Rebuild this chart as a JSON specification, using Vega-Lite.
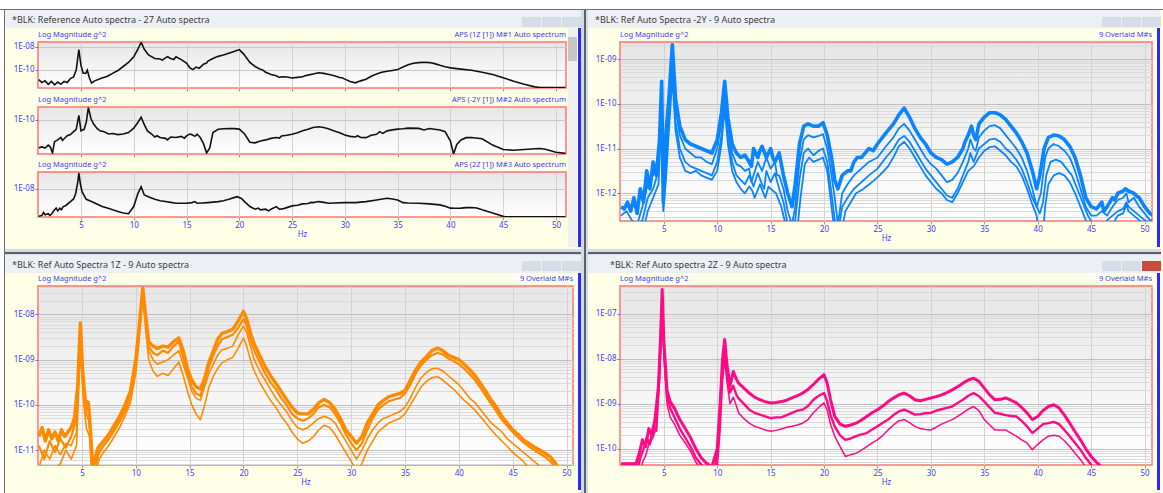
{
"$schema": "https://vega.github.io/schema/vega-lite/v6.json",
"padding": 0,
"background": "#fffee6",
"config": {"view": {"stroke": null}, "font": "Noto Sans", "title": {"font": "Noto Sans", "fontSize": 9, "fontWeight": "normal", "color": "#3c3c3c"}, "axis": {"labelFont": "Noto Sans", "titleFont": "Noto Sans"}},
"datasets": {
"A1": [{"f":1,"v":-10.84},{"f":1.3,"v":-11.1},{"f":1.6,"v":-10.95},{"f":1.9,"v":-11.25},{"f":2.2,"v":-11},{"f":2.5,"v":-11.3},{"f":2.8,"v":-11.05},{"f":3.1,"v":-11.25},{"f":3.4,"v":-11},{"f":3.7,"v":-11.1},{"f":4,"v":-10.75},{"f":4.3,"v":-10.6},{"f":4.55,"v":-10},{"f":4.8,"v":-8.23},{"f":5,"v":-9.6},{"f":5.2,"v":-10.26},{"f":5.45,"v":-10.3},{"f":5.6,"v":-10.03},{"f":5.8,"v":-10.7},{"f":6,"v":-11.13},{"f":6.3,"v":-10.95},{"f":7,"v":-10.7},{"f":7.5,"v":-10.55},{"f":8,"v":-10.3},{"f":8.5,"v":-10.05},{"f":9,"v":-9.7},{"f":9.5,"v":-9.35},{"f":10,"v":-8.85},{"f":10.4,"v":-8.2},{"f":10.7,"v":-7.59},{"f":11,"v":-8.2},{"f":11.4,"v":-8.7},{"f":12,"v":-9},{"f":12.5,"v":-9.05},{"f":13,"v":-8.95},{"f":13.5,"v":-9},{"f":14,"v":-8.85},{"f":14.5,"v":-9.1},{"f":15,"v":-9.4},{"f":15.3,"v":-9.8},{"f":15.6,"v":-9.97},{"f":15.9,"v":-9.75},{"f":16.2,"v":-9.85},{"f":16.6,"v":-9.5},{"f":17,"v":-9.25},{"f":17.5,"v":-9},{"f":18,"v":-8.82},{"f":18.5,"v":-8.7},{"f":19,"v":-8.55},{"f":19.5,"v":-8.4},{"f":20,"v":-8.23},{"f":20.4,"v":-8.6},{"f":21,"v":-9.35},{"f":21.5,"v":-9.7},{"f":22,"v":-9.95},{"f":22.5,"v":-10.2},{"f":23,"v":-10.4},{"f":23.5,"v":-10.5},{"f":24,"v":-10.6},{"f":24.5,"v":-10.62},{"f":25,"v":-10.7},{"f":25.5,"v":-10.65},{"f":26,"v":-10.6},{"f":26.5,"v":-10.45},{"f":27,"v":-10.35},{"f":27.5,"v":-10.25},{"f":28,"v":-10.3},{"f":28.5,"v":-10.4},{"f":29,"v":-10.5},{"f":29.5,"v":-10.65},{"f":30,"v":-10.8},{"f":30.5,"v":-11},{"f":31,"v":-11.12},{"f":31.5,"v":-10.95},{"f":32,"v":-10.8},{"f":32.5,"v":-10.55},{"f":33,"v":-10.35},{"f":33.5,"v":-10.2},{"f":34,"v":-10.12},{"f":34.5,"v":-10.05},{"f":35,"v":-9.97},{"f":35.5,"v":-9.75},{"f":36,"v":-9.55},{"f":36.5,"v":-9.42},{"f":37,"v":-9.36},{"f":37.5,"v":-9.33},{"f":38,"v":-9.36},{"f":38.5,"v":-9.45},{"f":39,"v":-9.6},{"f":39.5,"v":-9.72},{"f":40,"v":-9.82},{"f":41,"v":-9.93},{"f":42,"v":-10.03},{"f":43,"v":-10.2},{"f":44,"v":-10.4},{"f":45,"v":-10.68},{"f":46,"v":-10.98},{"f":47,"v":-11.25},{"f":48,"v":-11.47},{"f":48.5,"v":-11.52},{"f":50.9,"v":-11.52},{"f":12.7,"v":-9.15},{"f":13.2,"v":-8.85},{"f":13.8,"v":-9.1},{"f":16.9,"v":-9.4},{"f":22.2,"v":-10.0},{"f":23.8,"v":-10.65},{"f":26.2,"v":-10.5},{"f":29.8,"v":-10.7},{"f":31.2,"v":-11.05}],
"A2": [{"f":1,"v":-12.38},{"f":1.3,"v":-12.3},{"f":1.6,"v":-12.4},{"f":1.9,"v":-12.15},{"f":2.1,"v":-12.3},{"f":2.3,"v":-12.81},{"f":2.5,"v":-11.85},{"f":2.8,"v":-11.7},{"f":3.1,"v":-11.5},{"f":3.4,"v":-11.6},{"f":3.7,"v":-11.35},{"f":4,"v":-11.25},{"f":4.3,"v":-11},{"f":4.55,"v":-10.8},{"f":4.8,"v":-9.62},{"f":5,"v":-10.93},{"f":5.3,"v":-10.8},{"f":5.5,"v":-10.2},{"f":5.7,"v":-8.96},{"f":5.95,"v":-9.9},{"f":6.2,"v":-10.35},{"f":6.5,"v":-10.7},{"f":6.8,"v":-10.93},{"f":7.2,"v":-11},{"f":7.6,"v":-11.2},{"f":8,"v":-11.15},{"f":8.5,"v":-11.25},{"f":9,"v":-11.2},{"f":9.5,"v":-11.07},{"f":10,"v":-10.7},{"f":10.4,"v":-10.2},{"f":10.7,"v":-9.77},{"f":11,"v":-10.4},{"f":11.3,"v":-10.93},{"f":11.7,"v":-11.2},{"f":12,"v":-11.45},{"f":12.5,"v":-11.5},{"f":13,"v":-11.57},{"f":13.5,"v":-11.45},{"f":14,"v":-11.5},{"f":14.5,"v":-11.4},{"f":15,"v":-11.36},{"f":15.5,"v":-11.25},{"f":16,"v":-11.22},{"f":16.3,"v":-11.5},{"f":16.6,"v":-12},{"f":16.9,"v":-12.81},{"f":17.2,"v":-12.38},{"f":17.5,"v":-11.07},{"f":18,"v":-10.8},{"f":18.5,"v":-10.75},{"f":19,"v":-10.73},{"f":19.5,"v":-10.74},{"f":20,"v":-10.78},{"f":20.5,"v":-11.2},{"f":21,"v":-11.9},{"f":21.5,"v":-11.95},{"f":22,"v":-11.8},{"f":22.5,"v":-11.7},{"f":23,"v":-11.57},{"f":23.5,"v":-11.5},{"f":24,"v":-11.36},{"f":24.5,"v":-11.3},{"f":25,"v":-11.22},{"f":25.5,"v":-11.1},{"f":26,"v":-10.93},{"f":26.5,"v":-10.8},{"f":27,"v":-10.65},{"f":27.5,"v":-10.58},{"f":28,"v":-10.65},{"f":28.5,"v":-10.78},{"f":29,"v":-10.95},{"f":29.5,"v":-11.1},{"f":30,"v":-11.28},{"f":30.5,"v":-11.4},{"f":31,"v":-11.45},{"f":31.5,"v":-11.5},{"f":32,"v":-11.51},{"f":32.5,"v":-11.3},{"f":33,"v":-11.22},{"f":33.3,"v":-11},{"f":33.6,"v":-11.15},{"f":34,"v":-10.93},{"f":34.5,"v":-10.85},{"f":35,"v":-10.78},{"f":35.5,"v":-10.75},{"f":36,"v":-10.7},{"f":37,"v":-10.72},{"f":38,"v":-10.73},{"f":39,"v":-10.85},{"f":39.5,"v":-11},{"f":40,"v":-11.8},{"f":40.3,"v":-12.9},{"f":40.6,"v":-12.09},{"f":41,"v":-11.7},{"f":41.5,"v":-11.51},{"f":42,"v":-11.5},{"f":43,"v":-11.6},{"f":44,"v":-12.14},{"f":45,"v":-12.52},{"f":46,"v":-12.58},{"f":47,"v":-12.52},{"f":48,"v":-12.45},{"f":48.5,"v":-12.43},{"f":49,"v":-12.5},{"f":49.5,"v":-12.63},{"f":50,"v":-12.75},{"f":50.9,"v":-12.85},{"f":3.25,"v":-11.75},{"f":12.2,"v":-11.35},{"f":13.2,"v":-11.7},{"f":14.8,"v":-11.55},{"f":15.3,"v":-11.2},{"f":15.8,"v":-11.4},{"f":23.8,"v":-11.55},{"f":31.2,"v":-11.35},{"f":37.5,"v":-10.85}],
"A3": [{"f":1,"v":-10.43},{"f":1.3,"v":-10.35},{"f":1.6,"v":-10.29},{"f":1.9,"v":-10.2},{"f":2.2,"v":-10.25},{"f":2.5,"v":-9.86},{"f":2.8,"v":-9.95},{"f":3,"v":-9.71},{"f":3.3,"v":-9.6},{"f":3.6,"v":-9.45},{"f":4,"v":-9.13},{"f":4.3,"v":-8.9},{"f":4.5,"v":-8.41},{"f":4.7,"v":-7.4},{"f":4.8,"v":-6.61},{"f":4.95,"v":-7.6},{"f":5.1,"v":-8.26},{"f":5.5,"v":-8.93},{"f":6,"v":-9.13},{"f":6.5,"v":-9.35},{"f":7,"v":-9.57},{"f":7.5,"v":-9.7},{"f":8,"v":-9.86},{"f":8.5,"v":-10},{"f":9,"v":-10.14},{"f":9.5,"v":-10.2},{"f":10,"v":-9.57},{"f":10.4,"v":-8.4},{"f":10.7,"v":-7.83},{"f":11,"v":-8.55},{"f":11.5,"v":-8.75},{"f":12,"v":-8.93},{"f":12.5,"v":-9.05},{"f":13,"v":-9.13},{"f":13.5,"v":-9.2},{"f":14,"v":-9.28},{"f":14.5,"v":-9.28},{"f":15,"v":-9.28},{"f":15.5,"v":-9.22},{"f":15.8,"v":-9.13},{"f":16,"v":-9.28},{"f":16.5,"v":-9.25},{"f":17,"v":-9.22},{"f":17.5,"v":-9.18},{"f":18,"v":-9.13},{"f":18.5,"v":-9.05},{"f":19,"v":-8.93},{"f":19.5,"v":-8.78},{"f":19.8,"v":-8.7},{"f":20.2,"v":-8.85},{"f":20.5,"v":-9.13},{"f":21,"v":-9.57},{"f":21.5,"v":-9.8},{"f":22,"v":-9.86},{"f":22.5,"v":-9.8},{"f":23,"v":-9.8},{"f":23.5,"v":-9.57},{"f":23.8,"v":-9.8},{"f":24.2,"v":-9.75},{"f":25,"v":-9.51},{"f":25.5,"v":-9.45},{"f":26,"v":-9.33},{"f":26.5,"v":-9.3},{"f":27,"v":-9.22},{"f":27.5,"v":-9.13},{"f":28,"v":-9.2},{"f":28.5,"v":-9.28},{"f":29,"v":-9.25},{"f":30,"v":-9.22},{"f":31,"v":-9.22},{"f":32,"v":-9.13},{"f":33,"v":-8.99},{"f":34,"v":-8.84},{"f":34.5,"v":-8.9},{"f":35,"v":-8.99},{"f":35.5,"v":-9.22},{"f":36,"v":-9.25},{"f":37,"v":-9.28},{"f":38,"v":-9.33},{"f":39,"v":-9.42},{"f":39.5,"v":-9.55},{"f":40,"v":-9.71},{"f":40.5,"v":-9.72},{"f":41,"v":-9.71},{"f":41.5,"v":-9.66},{"f":42,"v":-9.65},{"f":42.5,"v":-9.7},{"f":43,"v":-9.86},{"f":44,"v":-10.14},{"f":45,"v":-10.43},{"f":45.2,"v":-10.47},{"f":50.9,"v":-10.47},{"f":1.45,"v":-10.1},{"f":2.05,"v":-10.35},{"f":2.65,"v":-9.7},{"f":3.15,"v":-9.85},{"f":21.8,"v":-9.7},{"f":22.8,"v":-9.95},{"f":26.8,"v":-9.2}],
"TR": [
{"s":"a","f":1,"v":-12.3},{"s":"a","f":1.3,"v":-12.35},{"s":"a","f":1.6,"v":-12.2},{"s":"a","f":1.9,"v":-12.4},{"s":"a","f":2.2,"v":-12.1},{"s":"a","f":2.5,"v":-12.45},{"s":"a","f":2.8,"v":-11.9},{"s":"a","f":3.1,"v":-12.2},{"s":"a","f":3.4,"v":-11.5},{"s":"a","f":3.7,"v":-11.9},{"s":"a","f":4,"v":-11.3},{"s":"a","f":4.3,"v":-11.6},{"s":"a","f":4.6,"v":-10.8},{"s":"a","f":4.8,"v":-9.5},{"s":"a","f":4.95,"v":-12.2},{"s":"a","f":5.1,"v":-11},{"s":"a","f":5.5,"v":-9.8},{"s":"a","f":5.8,"v":-8.68},{"s":"a","f":6.1,"v":-9.9},{"s":"a","f":6.5,"v":-10.5},{"s":"a","f":7,"v":-10.8},{"s":"a","f":7.5,"v":-10.9},{"s":"a","f":8,"v":-10.95},{"s":"a","f":8.5,"v":-11},{"s":"a","f":9,"v":-11.05},{"s":"a","f":9.5,"v":-11.1},{"s":"a","f":10,"v":-10.8},{"s":"a","f":10.4,"v":-10.2},{"s":"a","f":10.7,"v":-9.5},{"s":"a","f":11,"v":-10.3},{"s":"a","f":11.4,"v":-10.9},{"s":"a","f":11.8,"v":-11.1},{"s":"a","f":12.2,"v":-11.2},{"s":"a","f":12.6,"v":-11.15},{"s":"a","f":13,"v":-11.3},{"s":"a","f":13.4,"v":-11},{"s":"a","f":13.8,"v":-11.2},{"s":"a","f":14.2,"v":-10.95},{"s":"a","f":14.6,"v":-11.2},{"s":"a","f":15,"v":-11},{"s":"a","f":15.4,"v":-11.3},{"s":"a","f":15.8,"v":-11.1},{"s":"a","f":16.2,"v":-11.6},{"s":"a","f":16.6,"v":-12},{"s":"a","f":17,"v":-12.3},{"s":"a","f":17.3,"v":-11.8},{"s":"a","f":17.7,"v":-10.9},{"s":"a","f":18.1,"v":-10.5},{"s":"a","f":18.5,"v":-10.45},{"s":"a","f":19,"v":-10.5},{"s":"a","f":19.5,"v":-10.5},{"s":"a","f":19.9,"v":-10.42},{"s":"a","f":20.3,"v":-10.7},{"s":"a","f":20.7,"v":-11.2},{"s":"a","f":21,"v":-11.7},{"s":"a","f":21.3,"v":-11.9},{"s":"a","f":21.7,"v":-11.6},{"s":"a","f":22.2,"v":-11.5},{"s":"a","f":22.8,"v":-11.3},{"s":"a","f":23.5,"v":-11.2},{"s":"a","f":24.2,"v":-11},{"s":"a","f":25,"v":-10.9},{"s":"a","f":25.8,"v":-10.65},{"s":"a","f":26.5,"v":-10.45},{"s":"a","f":27,"v":-10.25},{"s":"a","f":27.5,"v":-10.1},{"s":"a","f":28,"v":-10.3},{"s":"a","f":28.5,"v":-10.55},{"s":"a","f":29,"v":-10.75},{"s":"a","f":29.5,"v":-10.9},{"s":"a","f":30,"v":-11.1},{"s":"a","f":30.5,"v":-11.2},{"s":"a","f":31,"v":-11.25},{"s":"a","f":31.5,"v":-11.35},{"s":"a","f":32,"v":-11.3},{"s":"a","f":32.5,"v":-11.2},{"s":"a","f":33,"v":-11},{"s":"a","f":33.5,"v":-10.7},{"s":"a","f":34,"v":-10.7},{"s":"a","f":34.5,"v":-10.45},{"s":"a","f":35,"v":-10.3},{"s":"a","f":35.5,"v":-10.2},{"s":"a","f":36,"v":-10.2},{"s":"a","f":36.5,"v":-10.25},{"s":"a","f":37,"v":-10.35},{"s":"a","f":37.5,"v":-10.5},{"s":"a","f":38,"v":-10.65},{"s":"a","f":38.5,"v":-10.85},{"s":"a","f":39,"v":-11.1},{"s":"a","f":39.5,"v":-11.5},{"s":"a","f":39.9,"v":-11.9},{"s":"a","f":40.2,"v":-11.6},{"s":"a","f":40.6,"v":-11},{"s":"a","f":41,"v":-10.75},{"s":"a","f":41.5,"v":-10.7},{"s":"a","f":42,"v":-10.72},{"s":"a","f":42.5,"v":-10.8},{"s":"a","f":43,"v":-10.95},{"s":"a","f":43.5,"v":-11.2},{"s":"a","f":44,"v":-11.6},{"s":"a","f":44.5,"v":-12.1},{"s":"a","f":45,"v":-12.3},{"s":"a","f":45.5,"v":-12.35},{"s":"a","f":46,"v":-12.2},{"s":"a","f":46.5,"v":-12.3},{"s":"a","f":47,"v":-12.1},{"s":"a","f":47.5,"v":-12},{"s":"a","f":48,"v":-11.95},{"s":"a","f":48.5,"v":-11.95},{"s":"a","f":49,"v":-12},{"s":"a","f":49.5,"v":-12.1},{"s":"a","f":50,"v":-12.3},{"s":"a","f":50.5,"v":-12.45},{"s":"a","f":50.8,"v":-12.5},
{"s":"a","f":13.2,"v":-11.4},{"s":"a","f":14,"v":-11.05},{"s":"a","f":15.2,"v":-11.2},{"s":"a","f":16,"v":-11.35},{"s":"a","f":22.5,"v":-11.5},{"s":"a","f":23.1,"v":-11.2},{"s":"a","f":24.6,"v":-11.05},{"s":"a","f":33.2,"v":-10.85},{"s":"a","f":33.8,"v":-10.5},{"s":"a","f":34.2,"v":-10.8},{"s":"a","f":46.2,"v":-12.4},{"s":"a","f":47.2,"v":-12.15},{"s":"a","f":48.2,"v":-11.9},{"s":"a","f":49.2,"v":-12.05},
{"s":"b","f":1,"v":-12.5},{"s":"b","f":1.5,"v":-12.4},{"s":"b","f":2,"v":-12.6},{"s":"b","f":2.5,"v":-12.7},{"s":"b","f":3,"v":-12.3},{"s":"b","f":3.5,"v":-11.8},{"s":"b","f":4,"v":-11.6},{"s":"b","f":4.5,"v":-11.2},{"s":"b","f":4.8,"v":-9.6},{"s":"b","f":4.95,"v":-12},{"s":"b","f":5.2,"v":-11.2},{"s":"b","f":5.5,"v":-10},{"s":"b","f":5.8,"v":-8.95},{"s":"b","f":6.1,"v":-10.1},{"s":"b","f":6.5,"v":-10.7},{"s":"b","f":7,"v":-11},{"s":"b","f":7.5,"v":-11.1},{"s":"b","f":8,"v":-11.2},{"s":"b","f":8.5,"v":-11.2},{"s":"b","f":9,"v":-11.3},{"s":"b","f":9.5,"v":-11.35},{"s":"b","f":10,"v":-11},{"s":"b","f":10.4,"v":-10.4},{"s":"b","f":10.7,"v":-9.75},{"s":"b","f":11,"v":-10.5},{"s":"b","f":11.4,"v":-11.1},{"s":"b","f":11.8,"v":-11.35},{"s":"b","f":12.2,"v":-11.4},{"s":"b","f":12.6,"v":-11.5},{"s":"b","f":13,"v":-11.45},{"s":"b","f":13.4,"v":-11.6},{"s":"b","f":13.8,"v":-11.3},{"s":"b","f":14.2,"v":-11.5},{"s":"b","f":14.6,"v":-11.2},{"s":"b","f":15,"v":-11.45},{"s":"b","f":15.4,"v":-11.3},{"s":"b","f":15.8,"v":-11.6},{"s":"b","f":16.2,"v":-11.9},{"s":"b","f":16.6,"v":-12.4},{"s":"b","f":17,"v":-12.7},{"s":"b","f":17.3,"v":-12.3},{"s":"b","f":17.7,"v":-11.3},{"s":"b","f":18.1,"v":-10.8},{"s":"b","f":18.5,"v":-10.7},{"s":"b","f":19,"v":-10.75},{"s":"b","f":19.5,"v":-10.72},{"s":"b","f":19.9,"v":-10.68},{"s":"b","f":20.3,"v":-11},{"s":"b","f":20.7,"v":-11.6},{"s":"b","f":21,"v":-12.1},{"s":"b","f":21.3,"v":-12.7},{"s":"b","f":21.7,"v":-12},{"s":"b","f":22.2,"v":-11.8},{"s":"b","f":22.8,"v":-11.6},{"s":"b","f":23.5,"v":-11.45},{"s":"b","f":24.2,"v":-11.3},{"s":"b","f":25,"v":-11.2},{"s":"b","f":25.8,"v":-10.95},{"s":"b","f":26.5,"v":-10.75},{"s":"b","f":27,"v":-10.55},{"s":"b","f":27.5,"v":-10.45},{"s":"b","f":28,"v":-10.6},{"s":"b","f":28.5,"v":-10.8},{"s":"b","f":29,"v":-11},{"s":"b","f":29.5,"v":-11.2},{"s":"b","f":30,"v":-11.35},{"s":"b","f":30.5,"v":-11.45},{"s":"b","f":31,"v":-11.6},{"s":"b","f":31.5,"v":-11.75},{"s":"b","f":32,"v":-11.7},{"s":"b","f":32.5,"v":-11.55},{"s":"b","f":33,"v":-11.3},{"s":"b","f":33.5,"v":-11},{"s":"b","f":34,"v":-11},{"s":"b","f":34.5,"v":-10.75},{"s":"b","f":35,"v":-10.6},{"s":"b","f":35.5,"v":-10.5},{"s":"b","f":36,"v":-10.48},{"s":"b","f":36.5,"v":-10.55},{"s":"b","f":37,"v":-10.7},{"s":"b","f":37.5,"v":-10.85},{"s":"b","f":38,"v":-11},{"s":"b","f":38.5,"v":-11.2},{"s":"b","f":39,"v":-11.5},{"s":"b","f":39.5,"v":-11.9},{"s":"b","f":39.9,"v":-12.3},{"s":"b","f":40.3,"v":-12},{"s":"b","f":40.7,"v":-11.2},{"s":"b","f":41,"v":-11},{"s":"b","f":41.5,"v":-10.9},{"s":"b","f":42,"v":-10.95},{"s":"b","f":42.5,"v":-11.05},{"s":"b","f":43,"v":-11.2},{"s":"b","f":43.5,"v":-11.5},{"s":"b","f":44,"v":-11.9},{"s":"b","f":44.5,"v":-12.3},{"s":"b","f":45,"v":-12.5},{"s":"b","f":45.5,"v":-12.5},{"s":"b","f":46,"v":-12.4},{"s":"b","f":46.5,"v":-12.5},{"s":"b","f":47,"v":-12.3},{"s":"b","f":47.5,"v":-12.15},{"s":"b","f":48,"v":-12.1},{"s":"b","f":48.5,"v":-12.2},{"s":"b","f":49,"v":-12.1},{"s":"b","f":49.5,"v":-12.3},{"s":"b","f":50,"v":-12.45},{"s":"b","f":50.5,"v":-12.6},{"s":"b","f":50.8,"v":-12.6},
{"s":"b","f":13.2,"v":-11.75},{"s":"b","f":14.4,"v":-11.35},{"s":"b","f":15.6,"v":-11.6},{"s":"b","f":33.7,"v":-10.8},{"s":"b","f":34.2,"v":-11.05},{"s":"b","f":48.3,"v":-12.0},
{"s":"c","f":1,"v":-12.7},{"s":"c","f":2,"v":-12.8},{"s":"c","f":3,"v":-12.6},{"s":"c","f":3.5,"v":-12.1},{"s":"c","f":4,"v":-11.9},{"s":"c","f":4.5,"v":-11.5},{"s":"c","f":4.8,"v":-9.9},{"s":"c","f":4.95,"v":-12.3},{"s":"c","f":5.2,"v":-11.5},{"s":"c","f":5.5,"v":-10.3},{"s":"c","f":5.8,"v":-9.2},{"s":"c","f":6.1,"v":-10.4},{"s":"c","f":6.5,"v":-11},{"s":"c","f":7,"v":-11.3},{"s":"c","f":7.5,"v":-11.4},{"s":"c","f":8,"v":-11.45},{"s":"c","f":8.5,"v":-11.5},{"s":"c","f":9,"v":-11.55},{"s":"c","f":9.5,"v":-11.6},{"s":"c","f":10,"v":-11.3},{"s":"c","f":10.4,"v":-10.7},{"s":"c","f":10.7,"v":-9.95},{"s":"c","f":11,"v":-10.7},{"s":"c","f":11.4,"v":-11.3},{"s":"c","f":11.8,"v":-11.6},{"s":"c","f":12.2,"v":-11.7},{"s":"c","f":12.6,"v":-11.8},{"s":"c","f":13,"v":-11.6},{"s":"c","f":13.4,"v":-11.85},{"s":"c","f":13.8,"v":-11.55},{"s":"c","f":14.2,"v":-11.8},{"s":"c","f":14.6,"v":-11.5},{"s":"c","f":15,"v":-11.75},{"s":"c","f":15.4,"v":-11.55},{"s":"c","f":15.8,"v":-11.9},{"s":"c","f":16.2,"v":-12.2},{"s":"c","f":16.6,"v":-12.7},{"s":"c","f":17,"v":-12.9},{"s":"c","f":17.3,"v":-12.6},{"s":"c","f":17.7,"v":-11.7},{"s":"c","f":18.1,"v":-11.1},{"s":"c","f":18.5,"v":-11},{"s":"c","f":19,"v":-11.15},{"s":"c","f":19.5,"v":-11.05},{"s":"c","f":19.9,"v":-11},{"s":"c","f":20.3,"v":-11.3},{"s":"c","f":20.7,"v":-12},{"s":"c","f":21,"v":-12.6},{"s":"c","f":21.3,"v":-12.9},{"s":"c","f":21.7,"v":-12.3},{"s":"c","f":22.2,"v":-12.1},{"s":"c","f":22.8,"v":-11.9},{"s":"c","f":23.5,"v":-11.75},{"s":"c","f":24.2,"v":-11.6},{"s":"c","f":25,"v":-11.45},{"s":"c","f":25.8,"v":-11.2},{"s":"c","f":26.5,"v":-11},{"s":"c","f":27,"v":-10.8},{"s":"c","f":27.5,"v":-10.72},{"s":"c","f":28,"v":-10.85},{"s":"c","f":28.5,"v":-11.05},{"s":"c","f":29,"v":-11.25},{"s":"c","f":29.5,"v":-11.45},{"s":"c","f":30,"v":-11.6},{"s":"c","f":30.5,"v":-11.75},{"s":"c","f":31,"v":-11.9},{"s":"c","f":31.5,"v":-12.05},{"s":"c","f":32,"v":-12.1},{"s":"c","f":32.5,"v":-11.9},{"s":"c","f":33,"v":-11.6},{"s":"c","f":33.5,"v":-11.3},{"s":"c","f":34,"v":-11.3},{"s":"c","f":34.5,"v":-11},{"s":"c","f":35,"v":-10.9},{"s":"c","f":35.5,"v":-10.8},{"s":"c","f":36,"v":-10.78},{"s":"c","f":36.5,"v":-10.85},{"s":"c","f":37,"v":-11},{"s":"c","f":37.5,"v":-11.1},{"s":"c","f":38,"v":-11.25},{"s":"c","f":38.5,"v":-11.45},{"s":"c","f":39,"v":-11.75},{"s":"c","f":39.5,"v":-12.1},{"s":"c","f":39.9,"v":-12.3},{"s":"c","f":40.2,"v":-12.45},{"s":"c","f":40.5,"v":-12.2},{"s":"c","f":40.8,"v":-11.6},{"s":"c","f":41.2,"v":-11.3},{"s":"c","f":41.7,"v":-11.25},{"s":"c","f":42.2,"v":-11.3},{"s":"c","f":42.7,"v":-11.45},{"s":"c","f":43.2,"v":-11.6},{"s":"c","f":43.7,"v":-11.9},{"s":"c","f":44.2,"v":-12.2},{"s":"c","f":44.7,"v":-12.5},{"s":"c","f":45.2,"v":-12.7},{"s":"c","f":46,"v":-12.8},{"s":"c","f":46.5,"v":-12.6},{"s":"c","f":47,"v":-12.5},{"s":"c","f":47.5,"v":-12.4},{"s":"c","f":48,"v":-12.35},{"s":"c","f":48.5,"v":-12.3},{"s":"c","f":49,"v":-12.4},{"s":"c","f":49.5,"v":-12.5},{"s":"c","f":50,"v":-12.6},{"s":"c","f":50.8,"v":-12.7},
{"s":"c","f":13.6,"v":-11.7},{"s":"c","f":14.4,"v":-11.9},{"s":"c","f":33.7,"v":-11.1},{"s":"c","f":48.3,"v":-12.2},
{"s":"d","f":1,"v":-12.9},{"s":"d","f":3,"v":-12.9},{"s":"d","f":3.5,"v":-12.4},{"s":"d","f":4,"v":-12.1},{"s":"d","f":4.5,"v":-11.8},{"s":"d","f":4.8,"v":-10.2},{"s":"d","f":4.95,"v":-12.4},{"s":"d","f":5.2,"v":-11.7},{"s":"d","f":5.5,"v":-10.5},{"s":"d","f":5.8,"v":-9.4},{"s":"d","f":6.1,"v":-10.6},{"s":"d","f":6.5,"v":-11.2},{"s":"d","f":7,"v":-11.5},{"s":"d","f":7.5,"v":-11.55},{"s":"d","f":8,"v":-11.5},{"s":"d","f":8.5,"v":-11.6},{"s":"d","f":9,"v":-11.65},{"s":"d","f":9.5,"v":-11.7},{"s":"d","f":10,"v":-11.5},{"s":"d","f":10.4,"v":-10.9},{"s":"d","f":10.7,"v":-10.1},{"s":"d","f":11,"v":-10.9},{"s":"d","f":11.4,"v":-11.5},{"s":"d","f":11.8,"v":-11.75},{"s":"d","f":12.2,"v":-11.9},{"s":"d","f":12.6,"v":-12},{"s":"d","f":13,"v":-11.85},{"s":"d","f":13.5,"v":-12.1},{"s":"d","f":14,"v":-11.8},{"s":"d","f":14.5,"v":-12.1},{"s":"d","f":15,"v":-11.9},{"s":"d","f":15.5,"v":-12},{"s":"d","f":16,"v":-12.3},{"s":"d","f":16.5,"v":-12.8},{"s":"d","f":17.5,"v":-12.8},{"s":"d","f":17.8,"v":-12.1},{"s":"d","f":18.2,"v":-11.35},{"s":"d","f":18.6,"v":-11.2},{"s":"d","f":19,"v":-11.3},{"s":"d","f":19.5,"v":-11.25},{"s":"d","f":19.9,"v":-11.2},{"s":"d","f":20.3,"v":-11.5},{"s":"d","f":20.7,"v":-12.3},{"s":"d","f":21,"v":-12.9},{"s":"d","f":21.6,"v":-12.9},{"s":"d","f":22,"v":-12.4},{"s":"d","f":22.5,"v":-12.2},{"s":"d","f":23,"v":-12},{"s":"d","f":23.7,"v":-11.9},{"s":"d","f":24.5,"v":-11.75},{"s":"d","f":25.2,"v":-11.6},{"s":"d","f":26,"v":-11.4},{"s":"d","f":26.6,"v":-11.15},{"s":"d","f":27,"v":-10.95},{"s":"d","f":27.5,"v":-10.85},{"s":"d","f":28,"v":-11},{"s":"d","f":28.5,"v":-11.2},{"s":"d","f":29,"v":-11.4},{"s":"d","f":29.5,"v":-11.6},{"s":"d","f":30,"v":-11.75},{"s":"d","f":30.5,"v":-11.9},{"s":"d","f":31,"v":-12},{"s":"d","f":31.5,"v":-12.15},{"s":"d","f":32,"v":-12.2},{"s":"d","f":32.5,"v":-12},{"s":"d","f":33,"v":-11.75},{"s":"d","f":33.5,"v":-11.5},{"s":"d","f":34,"v":-11.4},{"s":"d","f":34.5,"v":-11.2},{"s":"d","f":35,"v":-11.05},{"s":"d","f":35.5,"v":-10.97},{"s":"d","f":36,"v":-10.95},{"s":"d","f":36.5,"v":-11.05},{"s":"d","f":37,"v":-11.15},{"s":"d","f":37.5,"v":-11.3},{"s":"d","f":38,"v":-11.4},{"s":"d","f":38.5,"v":-11.6},{"s":"d","f":39,"v":-11.9},{"s":"d","f":39.5,"v":-12.25},{"s":"d","f":39.9,"v":-12.5},{"s":"d","f":40.1,"v":-12.9},{"s":"d","f":40.5,"v":-12.9},{"s":"d","f":40.7,"v":-12.3},{"s":"d","f":41,"v":-11.8},{"s":"d","f":41.5,"v":-11.6},{"s":"d","f":42,"v":-11.55},{"s":"d","f":42.5,"v":-11.6},{"s":"d","f":43,"v":-11.75},{"s":"d","f":43.5,"v":-12},{"s":"d","f":44,"v":-12.3},{"s":"d","f":44.5,"v":-12.6},{"s":"d","f":45,"v":-12.9},{"s":"d","f":46.5,"v":-12.9},{"s":"d","f":47,"v":-12.7},{"s":"d","f":47.5,"v":-12.5},{"s":"d","f":48,"v":-12.45},{"s":"d","f":48.5,"v":-12.4},{"s":"d","f":49,"v":-12.5},{"s":"d","f":49.5,"v":-12.6},{"s":"d","f":50,"v":-12.7},{"s":"d","f":50.8,"v":-12.8},
{"s":"d","f":13.3,"v":-11.95},{"s":"d","f":14.8,"v":-11.85},{"s":"d","f":48.3,"v":-12.25}
],
"BL": [
{"s":"a","f":1,"v":-10.7},{"s":"a","f":1.3,"v":-10.5},{"s":"a","f":1.6,"v":-10.8},{"s":"a","f":1.9,"v":-10.55},{"s":"a","f":2.2,"v":-10.75},{"s":"a","f":2.5,"v":-10.6},{"s":"a","f":2.8,"v":-10.8},{"s":"a","f":3.1,"v":-10.55},{"s":"a","f":3.4,"v":-10.7},{"s":"a","f":3.7,"v":-10.6},{"s":"a","f":4,"v":-10.5},{"s":"a","f":4.3,"v":-10.3},{"s":"a","f":4.6,"v":-9.6},{"s":"a","f":4.85,"v":-8.19},{"s":"a","f":5.05,"v":-9.2},{"s":"a","f":5.3,"v":-9.9},{"s":"a","f":5.6,"v":-9.95},{"s":"a","f":5.8,"v":-10.6},{"s":"a","f":6,"v":-11.4},{"s":"a","f":6.2,"v":-11.2},{"s":"a","f":6.5,"v":-10.95},{"s":"a","f":7,"v":-10.8},{"s":"a","f":7.5,"v":-10.65},{"s":"a","f":8,"v":-10.45},{"s":"a","f":8.5,"v":-10.25},{"s":"a","f":9,"v":-10},{"s":"a","f":9.5,"v":-9.7},{"s":"a","f":10,"v":-9},{"s":"a","f":10.3,"v":-8.3},{"s":"a","f":10.65,"v":-7.42},{"s":"a","f":10.9,"v":-8},{"s":"a","f":11.2,"v":-8.6},{"s":"a","f":11.6,"v":-8.7},{"s":"a","f":12,"v":-8.75},{"s":"a","f":12.5,"v":-8.7},{"s":"a","f":13,"v":-8.72},{"s":"a","f":13.5,"v":-8.6},{"s":"a","f":14,"v":-8.52},{"s":"a","f":14.4,"v":-8.8},{"s":"a","f":14.8,"v":-9.2},{"s":"a","f":15.2,"v":-9.45},{"s":"a","f":15.6,"v":-9.6},{"s":"a","f":16,"v":-9.65},{"s":"a","f":16.4,"v":-9.4},{"s":"a","f":16.8,"v":-9.05},{"s":"a","f":17.2,"v":-8.8},{"s":"a","f":17.6,"v":-8.55},{"s":"a","f":18,"v":-8.42},{"s":"a","f":18.5,"v":-8.38},{"s":"a","f":19,"v":-8.33},{"s":"a","f":19.5,"v":-8.15},{"s":"a","f":20,"v":-7.93},{"s":"a","f":20.3,"v":-8.1},{"s":"a","f":20.7,"v":-8.45},{"s":"a","f":21,"v":-8.65},{"s":"a","f":21.5,"v":-8.9},{"s":"a","f":22,"v":-9.15},{"s":"a","f":22.5,"v":-9.35},{"s":"a","f":23,"v":-9.52},{"s":"a","f":23.5,"v":-9.7},{"s":"a","f":24,"v":-9.88},{"s":"a","f":24.5,"v":-10.05},{"s":"a","f":25,"v":-10.18},{"s":"a","f":25.5,"v":-10.2},{"s":"a","f":26,"v":-10.2},{"s":"a","f":26.5,"v":-10.1},{"s":"a","f":27,"v":-9.95},{"s":"a","f":27.5,"v":-9.88},{"s":"a","f":28,"v":-9.95},{"s":"a","f":28.5,"v":-10.1},{"s":"a","f":29,"v":-10.3},{"s":"a","f":29.5,"v":-10.55},{"s":"a","f":30,"v":-10.7},{"s":"a","f":30.5,"v":-10.85},{"s":"a","f":31,"v":-10.7},{"s":"a","f":31.5,"v":-10.4},{"s":"a","f":32,"v":-10.2},{"s":"a","f":32.5,"v":-10},{"s":"a","f":33,"v":-9.9},{"s":"a","f":33.5,"v":-9.82},{"s":"a","f":34,"v":-9.78},{"s":"a","f":34.5,"v":-9.75},{"s":"a","f":35,"v":-9.68},{"s":"a","f":35.5,"v":-9.45},{"s":"a","f":36,"v":-9.22},{"s":"a","f":36.5,"v":-9.05},{"s":"a","f":37,"v":-8.93},{"s":"a","f":37.5,"v":-8.8},{"s":"a","f":38,"v":-8.74},{"s":"a","f":38.5,"v":-8.8},{"s":"a","f":39,"v":-8.9},{"s":"a","f":39.5,"v":-8.95},{"s":"a","f":40,"v":-9},{"s":"a","f":40.5,"v":-9.1},{"s":"a","f":41,"v":-9.22},{"s":"a","f":41.5,"v":-9.35},{"s":"a","f":42,"v":-9.52},{"s":"a","f":42.5,"v":-9.7},{"s":"a","f":43,"v":-9.89},{"s":"a","f":43.5,"v":-10.05},{"s":"a","f":44,"v":-10.26},{"s":"a","f":44.5,"v":-10.4},{"s":"a","f":45,"v":-10.55},{"s":"a","f":45.5,"v":-10.65},{"s":"a","f":46,"v":-10.78},{"s":"a","f":46.5,"v":-10.85},{"s":"a","f":47,"v":-10.93},{"s":"a","f":47.5,"v":-11},{"s":"a","f":48,"v":-11.07},{"s":"a","f":48.5,"v":-11.15},{"s":"a","f":49,"v":-11.3},{"s":"a","f":49.3,"v":-11.4},
{"s":"b","f":1,"v":-10.9},{"s":"b","f":1.5,"v":-11.2},{"s":"b","f":2,"v":-10.8},{"s":"b","f":2.5,"v":-11.05},{"s":"b","f":3,"v":-10.75},{"s":"b","f":3.5,"v":-10.95},{"s":"b","f":4,"v":-10.7},{"s":"b","f":4.5,"v":-10.3},{"s":"b","f":4.85,"v":-8.3},{"s":"b","f":5.1,"v":-9.4},{"s":"b","f":5.4,"v":-10.1},{"s":"b","f":5.6,"v":-10},{"s":"b","f":5.85,"v":-10.9},{"s":"b","f":6.1,"v":-11.5},{"s":"b","f":6.5,"v":-11.1},{"s":"b","f":7,"v":-10.9},{"s":"b","f":7.5,"v":-10.75},{"s":"b","f":8,"v":-10.55},{"s":"b","f":8.5,"v":-10.35},{"s":"b","f":9,"v":-10.1},{"s":"b","f":9.5,"v":-9.8},{"s":"b","f":10,"v":-9.1},{"s":"b","f":10.3,"v":-8.4},{"s":"b","f":10.65,"v":-7.45},{"s":"b","f":10.9,"v":-8.05},{"s":"b","f":11.2,"v":-8.7},{"s":"b","f":11.6,"v":-8.85},{"s":"b","f":12,"v":-8.9},{"s":"b","f":12.5,"v":-8.8},{"s":"b","f":13,"v":-8.85},{"s":"b","f":13.5,"v":-8.7},{"s":"b","f":14,"v":-8.6},{"s":"b","f":14.4,"v":-8.95},{"s":"b","f":14.8,"v":-9.3},{"s":"b","f":15.2,"v":-9.6},{"s":"b","f":15.6,"v":-9.75},{"s":"b","f":16,"v":-9.8},{"s":"b","f":16.4,"v":-9.5},{"s":"b","f":16.8,"v":-9.15},{"s":"b","f":17.2,"v":-8.9},{"s":"b","f":17.6,"v":-8.7},{"s":"b","f":18,"v":-8.55},{"s":"b","f":18.5,"v":-8.5},{"s":"b","f":19,"v":-8.45},{"s":"b","f":19.5,"v":-8.3},{"s":"b","f":20,"v":-8.1},{"s":"b","f":20.3,"v":-8.25},{"s":"b","f":20.7,"v":-8.6},{"s":"b","f":21,"v":-8.8},{"s":"b","f":21.5,"v":-9.05},{"s":"b","f":22,"v":-9.3},{"s":"b","f":22.5,"v":-9.5},{"s":"b","f":23,"v":-9.65},{"s":"b","f":23.5,"v":-9.85},{"s":"b","f":24,"v":-10},{"s":"b","f":24.5,"v":-10.2},{"s":"b","f":25,"v":-10.3},{"s":"b","f":25.5,"v":-10.35},{"s":"b","f":26,"v":-10.3},{"s":"b","f":26.5,"v":-10.2},{"s":"b","f":27,"v":-10.05},{"s":"b","f":27.5,"v":-10},{"s":"b","f":28,"v":-10.05},{"s":"b","f":28.5,"v":-10.2},{"s":"b","f":29,"v":-10.4},{"s":"b","f":29.5,"v":-10.65},{"s":"b","f":30,"v":-10.85},{"s":"b","f":30.5,"v":-11},{"s":"b","f":31,"v":-10.85},{"s":"b","f":31.5,"v":-10.55},{"s":"b","f":32,"v":-10.3},{"s":"b","f":32.5,"v":-10.1},{"s":"b","f":33,"v":-10},{"s":"b","f":33.5,"v":-9.92},{"s":"b","f":34,"v":-9.88},{"s":"b","f":34.5,"v":-9.85},{"s":"b","f":35,"v":-9.75},{"s":"b","f":35.5,"v":-9.55},{"s":"b","f":36,"v":-9.3},{"s":"b","f":36.5,"v":-9.12},{"s":"b","f":37,"v":-9},{"s":"b","f":37.5,"v":-8.9},{"s":"b","f":38,"v":-8.85},{"s":"b","f":38.5,"v":-8.88},{"s":"b","f":39,"v":-8.97},{"s":"b","f":39.5,"v":-9.03},{"s":"b","f":40,"v":-9.1},{"s":"b","f":40.5,"v":-9.2},{"s":"b","f":41,"v":-9.32},{"s":"b","f":41.5,"v":-9.45},{"s":"b","f":42,"v":-9.62},{"s":"b","f":42.5,"v":-9.8},{"s":"b","f":43,"v":-9.98},{"s":"b","f":43.5,"v":-10.15},{"s":"b","f":44,"v":-10.33},{"s":"b","f":44.5,"v":-10.47},{"s":"b","f":45,"v":-10.6},{"s":"b","f":45.5,"v":-10.72},{"s":"b","f":46,"v":-10.83},{"s":"b","f":46.5,"v":-10.92},{"s":"b","f":47,"v":-11},{"s":"b","f":47.5,"v":-11.08},{"s":"b","f":48,"v":-11.15},{"s":"b","f":48.5,"v":-11.25},{"s":"b","f":49,"v":-11.4},
{"s":"c","f":1,"v":-11.4},{"s":"c","f":1.5,"v":-11},{"s":"c","f":2,"v":-11.2},{"s":"c","f":2.5,"v":-10.9},{"s":"c","f":3,"v":-11.1},{"s":"c","f":3.5,"v":-10.85},{"s":"c","f":4,"v":-10.9},{"s":"c","f":4.5,"v":-10.6},{"s":"c","f":4.85,"v":-8.5},{"s":"c","f":5.1,"v":-9.6},{"s":"c","f":5.4,"v":-10.2},{"s":"c","f":5.7,"v":-10.4},{"s":"c","f":6,"v":-11.5},{"s":"c","f":6.3,"v":-11.3},{"s":"c","f":6.7,"v":-11},{"s":"c","f":7.2,"v":-10.85},{"s":"c","f":7.7,"v":-10.7},{"s":"c","f":8.2,"v":-10.5},{"s":"c","f":8.7,"v":-10.3},{"s":"c","f":9.2,"v":-10.05},{"s":"c","f":9.7,"v":-9.6},{"s":"c","f":10.1,"v":-8.9},{"s":"c","f":10.4,"v":-8},{"s":"c","f":10.65,"v":-7.5},{"s":"c","f":10.9,"v":-8.1},{"s":"c","f":11.2,"v":-8.8},{"s":"c","f":11.6,"v":-9},{"s":"c","f":12,"v":-9.1},{"s":"c","f":12.5,"v":-9.05},{"s":"c","f":13,"v":-9},{"s":"c","f":13.5,"v":-8.9},{"s":"c","f":14,"v":-8.8},{"s":"c","f":14.4,"v":-9.1},{"s":"c","f":14.8,"v":-9.4},{"s":"c","f":15.2,"v":-9.7},{"s":"c","f":15.6,"v":-9.85},{"s":"c","f":16,"v":-9.9},{"s":"c","f":16.4,"v":-9.6},{"s":"c","f":16.8,"v":-9.3},{"s":"c","f":17.2,"v":-9.1},{"s":"c","f":17.6,"v":-8.9},{"s":"c","f":18,"v":-8.78},{"s":"c","f":18.5,"v":-8.75},{"s":"c","f":19,"v":-8.7},{"s":"c","f":19.5,"v":-8.45},{"s":"c","f":20,"v":-8.26},{"s":"c","f":20.3,"v":-8.4},{"s":"c","f":20.7,"v":-8.75},{"s":"c","f":21,"v":-9},{"s":"c","f":21.5,"v":-9.25},{"s":"c","f":22,"v":-9.45},{"s":"c","f":22.5,"v":-9.65},{"s":"c","f":23,"v":-9.85},{"s":"c","f":23.5,"v":-10},{"s":"c","f":24,"v":-10.15},{"s":"c","f":24.5,"v":-10.35},{"s":"c","f":25,"v":-10.5},{"s":"c","f":25.5,"v":-10.55},{"s":"c","f":26,"v":-10.5},{"s":"c","f":26.5,"v":-10.4},{"s":"c","f":27,"v":-10.3},{"s":"c","f":27.5,"v":-10.25},{"s":"c","f":28,"v":-10.3},{"s":"c","f":28.5,"v":-10.4},{"s":"c","f":29,"v":-10.6},{"s":"c","f":29.5,"v":-10.8},{"s":"c","f":30,"v":-11},{"s":"c","f":30.5,"v":-11.2},{"s":"c","f":31,"v":-11},{"s":"c","f":31.5,"v":-10.75},{"s":"c","f":32,"v":-10.55},{"s":"c","f":32.5,"v":-10.4},{"s":"c","f":33,"v":-10.3},{"s":"c","f":33.5,"v":-10.25},{"s":"c","f":34,"v":-10.2},{"s":"c","f":34.5,"v":-10.15},{"s":"c","f":35,"v":-10.05},{"s":"c","f":35.5,"v":-9.85},{"s":"c","f":36,"v":-9.6},{"s":"c","f":36.5,"v":-9.4},{"s":"c","f":37,"v":-9.28},{"s":"c","f":37.5,"v":-9.2},{"s":"c","f":38,"v":-9.19},{"s":"c","f":38.5,"v":-9.25},{"s":"c","f":39,"v":-9.35},{"s":"c","f":39.5,"v":-9.45},{"s":"c","f":40,"v":-9.55},{"s":"c","f":40.5,"v":-9.7},{"s":"c","f":41,"v":-9.85},{"s":"c","f":41.5,"v":-9.95},{"s":"c","f":42,"v":-10.1},{"s":"c","f":42.5,"v":-10.25},{"s":"c","f":43,"v":-10.4},{"s":"c","f":43.5,"v":-10.5},{"s":"c","f":44,"v":-10.6},{"s":"c","f":44.5,"v":-10.75},{"s":"c","f":45,"v":-10.85},{"s":"c","f":45.5,"v":-10.95},{"s":"c","f":46,"v":-11.05},{"s":"c","f":46.5,"v":-11.15},{"s":"c","f":47,"v":-11.25},{"s":"c","f":47.5,"v":-11.35},
{"s":"d","f":1,"v":-11.5},{"s":"d","f":2,"v":-11.5},{"s":"d","f":3,"v":-11.3},{"s":"d","f":3.5,"v":-11},{"s":"d","f":4,"v":-11.2},{"s":"d","f":4.5,"v":-10.9},{"s":"d","f":4.85,"v":-8.7},{"s":"d","f":5.1,"v":-9.8},{"s":"d","f":5.4,"v":-10.5},{"s":"d","f":5.7,"v":-10.7},{"s":"d","f":5.9,"v":-11.5},{"s":"d","f":6.3,"v":-11.5},{"s":"d","f":6.6,"v":-11.2},{"s":"d","f":7,"v":-11.05},{"s":"d","f":7.5,"v":-10.9},{"s":"d","f":8,"v":-10.7},{"s":"d","f":8.5,"v":-10.5},{"s":"d","f":9,"v":-10.25},{"s":"d","f":9.5,"v":-9.95},{"s":"d","f":10,"v":-9.3},{"s":"d","f":10.3,"v":-8.6},{"s":"d","f":10.65,"v":-7.6},{"s":"d","f":10.9,"v":-8.3},{"s":"d","f":11.2,"v":-9},{"s":"d","f":11.6,"v":-9.25},{"s":"d","f":12,"v":-9.37},{"s":"d","f":12.5,"v":-9.3},{"s":"d","f":13,"v":-9.35},{"s":"d","f":13.5,"v":-9.2},{"s":"d","f":14,"v":-9.05},{"s":"d","f":14.4,"v":-9.35},{"s":"d","f":14.8,"v":-9.7},{"s":"d","f":15.2,"v":-10},{"s":"d","f":15.6,"v":-10.2},{"s":"d","f":16,"v":-10.33},{"s":"d","f":16.4,"v":-10},{"s":"d","f":16.8,"v":-9.6},{"s":"d","f":17.2,"v":-9.37},{"s":"d","f":17.6,"v":-9.2},{"s":"d","f":18,"v":-9.07},{"s":"d","f":18.5,"v":-9},{"s":"d","f":19,"v":-8.95},{"s":"d","f":19.5,"v":-8.75},{"s":"d","f":20,"v":-8.52},{"s":"d","f":20.3,"v":-8.7},{"s":"d","f":20.7,"v":-9.05},{"s":"d","f":21,"v":-9.25},{"s":"d","f":21.5,"v":-9.5},{"s":"d","f":22,"v":-9.7},{"s":"d","f":22.5,"v":-9.9},{"s":"d","f":23,"v":-10.05},{"s":"d","f":23.5,"v":-10.25},{"s":"d","f":24,"v":-10.4},{"s":"d","f":24.5,"v":-10.6},{"s":"d","f":25,"v":-10.75},{"s":"d","f":25.5,"v":-10.85},{"s":"d","f":26,"v":-10.8},{"s":"d","f":26.5,"v":-10.7},{"s":"d","f":27,"v":-10.55},{"s":"d","f":27.5,"v":-10.45},{"s":"d","f":28,"v":-10.5},{"s":"d","f":28.5,"v":-10.65},{"s":"d","f":29,"v":-10.85},{"s":"d","f":29.5,"v":-11.05},{"s":"d","f":30,"v":-11.25},{"s":"d","f":30.5,"v":-11.45},{"s":"d","f":31,"v":-11.3},{"s":"d","f":31.5,"v":-11},{"s":"d","f":32,"v":-10.8},{"s":"d","f":32.5,"v":-10.6},{"s":"d","f":33,"v":-10.5},{"s":"d","f":33.5,"v":-10.4},{"s":"d","f":34,"v":-10.35},{"s":"d","f":34.5,"v":-10.3},{"s":"d","f":35,"v":-10.2},{"s":"d","f":35.5,"v":-10},{"s":"d","f":36,"v":-9.8},{"s":"d","f":36.5,"v":-9.6},{"s":"d","f":37,"v":-9.48},{"s":"d","f":37.5,"v":-9.4},{"s":"d","f":38,"v":-9.37},{"s":"d","f":38.5,"v":-9.45},{"s":"d","f":39,"v":-9.55},{"s":"d","f":39.5,"v":-9.65},{"s":"d","f":40,"v":-9.78},{"s":"d","f":40.5,"v":-9.9},{"s":"d","f":41,"v":-10},{"s":"d","f":41.5,"v":-10.12},{"s":"d","f":42,"v":-10.26},{"s":"d","f":42.5,"v":-10.4},{"s":"d","f":43,"v":-10.55},{"s":"d","f":43.5,"v":-10.68},{"s":"d","f":44,"v":-10.8},{"s":"d","f":44.5,"v":-10.92},{"s":"d","f":45,"v":-11.05},{"s":"d","f":45.5,"v":-11.15},{"s":"d","f":46,"v":-11.25},{"s":"d","f":46.5,"v":-11.4}
],
"BR": [
{"s":"a","f":1,"v":-10.33},{"s":"a","f":2.4,"v":-10.33},{"s":"a","f":2.7,"v":-10.1},{"s":"a","f":3,"v":-9.8},{"s":"a","f":3.3,"v":-9.95},{"s":"a","f":3.6,"v":-9.55},{"s":"a","f":3.9,"v":-9.7},{"s":"a","f":4.2,"v":-9.3},{"s":"a","f":4.5,"v":-8.6},{"s":"a","f":4.7,"v":-7.5},{"s":"a","f":4.85,"v":-6.46},{"s":"a","f":5,"v":-7.6},{"s":"a","f":5.3,"v":-8.7},{"s":"a","f":5.6,"v":-8.95},{"s":"a","f":6,"v":-9.1},{"s":"a","f":6.5,"v":-9.35},{"s":"a","f":7,"v":-9.55},{"s":"a","f":7.5,"v":-9.75},{"s":"a","f":8,"v":-10},{"s":"a","f":8.5,"v":-10.2},{"s":"a","f":9,"v":-10.32},{"s":"a","f":9.5,"v":-10.4},{"s":"a","f":10,"v":-10},{"s":"a","f":10.3,"v":-8.9},{"s":"a","f":10.5,"v":-8},{"s":"a","f":10.7,"v":-7.57},{"s":"a","f":10.9,"v":-8.1},{"s":"a","f":11.2,"v":-8.6},{"s":"a","f":11.5,"v":-8.28},{"s":"a","f":11.8,"v":-8.45},{"s":"a","f":12,"v":-8.54},{"s":"a","f":12.5,"v":-8.65},{"s":"a","f":13,"v":-8.76},{"s":"a","f":13.5,"v":-8.85},{"s":"a","f":14,"v":-8.91},{"s":"a","f":14.5,"v":-8.95},{"s":"a","f":15,"v":-8.98},{"s":"a","f":15.5,"v":-8.97},{"s":"a","f":16,"v":-8.95},{"s":"a","f":16.5,"v":-8.92},{"s":"a","f":17,"v":-8.87},{"s":"a","f":17.5,"v":-8.82},{"s":"a","f":18,"v":-8.76},{"s":"a","f":18.5,"v":-8.68},{"s":"a","f":19,"v":-8.57},{"s":"a","f":19.5,"v":-8.45},{"s":"a","f":20,"v":-8.35},{"s":"a","f":20.3,"v":-8.55},{"s":"a","f":20.6,"v":-8.9},{"s":"a","f":21,"v":-9.28},{"s":"a","f":21.5,"v":-9.45},{"s":"a","f":22,"v":-9.5},{"s":"a","f":22.5,"v":-9.47},{"s":"a","f":23,"v":-9.43},{"s":"a","f":23.5,"v":-9.36},{"s":"a","f":24,"v":-9.28},{"s":"a","f":24.5,"v":-9.2},{"s":"a","f":25,"v":-9.13},{"s":"a","f":25.5,"v":-9.05},{"s":"a","f":26,"v":-8.95},{"s":"a","f":26.5,"v":-8.87},{"s":"a","f":27,"v":-8.8},{"s":"a","f":27.5,"v":-8.76},{"s":"a","f":28,"v":-8.82},{"s":"a","f":28.5,"v":-8.91},{"s":"a","f":29,"v":-8.93},{"s":"a","f":29.5,"v":-8.9},{"s":"a","f":30,"v":-8.87},{"s":"a","f":30.5,"v":-8.84},{"s":"a","f":31,"v":-8.8},{"s":"a","f":31.5,"v":-8.75},{"s":"a","f":32,"v":-8.69},{"s":"a","f":32.5,"v":-8.62},{"s":"a","f":33,"v":-8.54},{"s":"a","f":33.5,"v":-8.47},{"s":"a","f":34,"v":-8.43},{"s":"a","f":34.5,"v":-8.5},{"s":"a","f":35,"v":-8.65},{"s":"a","f":35.5,"v":-8.8},{"s":"a","f":36,"v":-8.91},{"s":"a","f":36.5,"v":-8.9},{"s":"a","f":37,"v":-8.87},{"s":"a","f":37.5,"v":-8.92},{"s":"a","f":38,"v":-8.98},{"s":"a","f":38.5,"v":-9.08},{"s":"a","f":39,"v":-9.2},{"s":"a","f":39.5,"v":-9.35},{"s":"a","f":40,"v":-9.28},{"s":"a","f":40.5,"v":-9.15},{"s":"a","f":41,"v":-9.06},{"s":"a","f":41.5,"v":-9.02},{"s":"a","f":42,"v":-9.09},{"s":"a","f":42.5,"v":-9.25},{"s":"a","f":43,"v":-9.43},{"s":"a","f":43.5,"v":-9.62},{"s":"a","f":44,"v":-9.8},{"s":"a","f":44.5,"v":-10},{"s":"a","f":45,"v":-10.17},{"s":"a","f":45.5,"v":-10.3},{"s":"a","f":45.8,"v":-10.36},{"s":"a","f":46,"v":-10.45},
{"s":"b","f":1,"v":-10.5},{"s":"b","f":2.5,"v":-10.5},{"s":"b","f":2.8,"v":-10.2},{"s":"b","f":3.1,"v":-10},{"s":"b","f":3.4,"v":-9.75},{"s":"b","f":3.7,"v":-9.9},{"s":"b","f":4,"v":-9.5},{"s":"b","f":4.3,"v":-9.6},{"s":"b","f":4.6,"v":-8.2},{"s":"b","f":4.85,"v":-6.7},{"s":"b","f":5.05,"v":-7.9},{"s":"b","f":5.3,"v":-8.85},{"s":"b","f":5.6,"v":-9.1},{"s":"b","f":6,"v":-9.3},{"s":"b","f":6.5,"v":-9.55},{"s":"b","f":7,"v":-9.75},{"s":"b","f":7.5,"v":-9.95},{"s":"b","f":8,"v":-10.2},{"s":"b","f":8.5,"v":-10.35},{"s":"b","f":9,"v":-10.45},{"s":"b","f":9.8,"v":-10.45},{"s":"b","f":10.1,"v":-9.9},{"s":"b","f":10.4,"v":-8.5},{"s":"b","f":10.7,"v":-7.75},{"s":"b","f":10.9,"v":-8.3},{"s":"b","f":11.2,"v":-8.75},{"s":"b","f":11.5,"v":-8.6},{"s":"b","f":11.8,"v":-8.8},{"s":"b","f":12,"v":-8.88},{"s":"b","f":12.5,"v":-9},{"s":"b","f":13,"v":-9.13},{"s":"b","f":13.5,"v":-9.2},{"s":"b","f":14,"v":-9.24},{"s":"b","f":14.5,"v":-9.28},{"s":"b","f":15,"v":-9.32},{"s":"b","f":15.5,"v":-9.3},{"s":"b","f":16,"v":-9.3},{"s":"b","f":16.5,"v":-9.25},{"s":"b","f":17,"v":-9.2},{"s":"b","f":17.5,"v":-9.15},{"s":"b","f":18,"v":-9.13},{"s":"b","f":18.5,"v":-9.05},{"s":"b","f":19,"v":-8.91},{"s":"b","f":19.5,"v":-8.82},{"s":"b","f":20,"v":-8.76},{"s":"b","f":20.3,"v":-8.95},{"s":"b","f":20.6,"v":-9.25},{"s":"b","f":21,"v":-9.5},{"s":"b","f":21.5,"v":-9.7},{"s":"b","f":22,"v":-9.8},{"s":"b","f":22.5,"v":-9.77},{"s":"b","f":23,"v":-9.72},{"s":"b","f":23.5,"v":-9.68},{"s":"b","f":24,"v":-9.65},{"s":"b","f":24.5,"v":-9.57},{"s":"b","f":25,"v":-9.5},{"s":"b","f":25.5,"v":-9.42},{"s":"b","f":26,"v":-9.35},{"s":"b","f":26.5,"v":-9.25},{"s":"b","f":27,"v":-9.17},{"s":"b","f":27.5,"v":-9.13},{"s":"b","f":28,"v":-9.18},{"s":"b","f":28.5,"v":-9.24},{"s":"b","f":29,"v":-9.23},{"s":"b","f":29.5,"v":-9.21},{"s":"b","f":30,"v":-9.2},{"s":"b","f":30.5,"v":-9.15},{"s":"b","f":31,"v":-9.12},{"s":"b","f":31.5,"v":-9.09},{"s":"b","f":32,"v":-9.06},{"s":"b","f":32.5,"v":-8.98},{"s":"b","f":33,"v":-8.91},{"s":"b","f":33.5,"v":-8.82},{"s":"b","f":34,"v":-8.76},{"s":"b","f":34.5,"v":-8.83},{"s":"b","f":35,"v":-8.95},{"s":"b","f":35.5,"v":-9.08},{"s":"b","f":36,"v":-9.2},{"s":"b","f":36.5,"v":-9.22},{"s":"b","f":37,"v":-9.25},{"s":"b","f":37.5,"v":-9.27},{"s":"b","f":38,"v":-9.28},{"s":"b","f":38.5,"v":-9.38},{"s":"b","f":39,"v":-9.5},{"s":"b","f":39.5,"v":-9.65},{"s":"b","f":40,"v":-9.55},{"s":"b","f":40.5,"v":-9.45},{"s":"b","f":41,"v":-9.43},{"s":"b","f":41.5,"v":-9.4},{"s":"b","f":42,"v":-9.45},{"s":"b","f":42.5,"v":-9.58},{"s":"b","f":43,"v":-9.72},{"s":"b","f":43.5,"v":-9.87},{"s":"b","f":44,"v":-10.02},{"s":"b","f":44.5,"v":-10.2},{"s":"b","f":45,"v":-10.35},{"s":"b","f":45.3,"v":-10.45},
{"s":"c","f":1,"v":-10.6},{"s":"c","f":2.8,"v":-10.6},{"s":"c","f":3,"v":-10.3},{"s":"c","f":3.3,"v":-10.15},{"s":"c","f":3.6,"v":-9.9},{"s":"c","f":4,"v":-9.75},{"s":"c","f":4.3,"v":-9.5},{"s":"c","f":4.6,"v":-8.5},{"s":"c","f":4.85,"v":-6.9},{"s":"c","f":5.05,"v":-8.1},{"s":"c","f":5.3,"v":-9},{"s":"c","f":5.6,"v":-9.3},{"s":"c","f":6,"v":-9.45},{"s":"c","f":6.5,"v":-9.7},{"s":"c","f":7,"v":-9.87},{"s":"c","f":7.5,"v":-10.05},{"s":"c","f":8,"v":-10.3},{"s":"c","f":8.5,"v":-10.45},{"s":"c","f":10,"v":-10.45},{"s":"c","f":10.3,"v":-9.5},{"s":"c","f":10.5,"v":-8.5},{"s":"c","f":10.7,"v":-8},{"s":"c","f":10.9,"v":-8.5},{"s":"c","f":11.2,"v":-9},{"s":"c","f":11.5,"v":-8.85},{"s":"c","f":11.8,"v":-9.05},{"s":"c","f":12,"v":-9.2},{"s":"c","f":12.5,"v":-9.33},{"s":"c","f":13,"v":-9.43},{"s":"c","f":13.5,"v":-9.5},{"s":"c","f":14,"v":-9.54},{"s":"c","f":14.5,"v":-9.58},{"s":"c","f":15,"v":-9.61},{"s":"c","f":15.5,"v":-9.59},{"s":"c","f":16,"v":-9.56},{"s":"c","f":16.5,"v":-9.52},{"s":"c","f":17,"v":-9.5},{"s":"c","f":17.5,"v":-9.47},{"s":"c","f":18,"v":-9.43},{"s":"c","f":18.5,"v":-9.35},{"s":"c","f":19,"v":-9.2},{"s":"c","f":19.5,"v":-9.08},{"s":"c","f":20,"v":-8.98},{"s":"c","f":20.3,"v":-9.15},{"s":"c","f":20.6,"v":-9.45},{"s":"c","f":21,"v":-9.72},{"s":"c","f":21.5,"v":-9.95},{"s":"c","f":22,"v":-10.17},{"s":"c","f":22.5,"v":-10.13},{"s":"c","f":23,"v":-10.1},{"s":"c","f":23.5,"v":-10.03},{"s":"c","f":24,"v":-9.95},{"s":"c","f":24.5,"v":-9.87},{"s":"c","f":25,"v":-9.8},{"s":"c","f":25.5,"v":-9.7},{"s":"c","f":26,"v":-9.58},{"s":"c","f":26.5,"v":-9.47},{"s":"c","f":27,"v":-9.38},{"s":"c","f":27.5,"v":-9.35},{"s":"c","f":28,"v":-9.42},{"s":"c","f":28.5,"v":-9.5},{"s":"c","f":29,"v":-9.55},{"s":"c","f":29.5,"v":-9.57},{"s":"c","f":30,"v":-9.58},{"s":"c","f":30.5,"v":-9.52},{"s":"c","f":31,"v":-9.45},{"s":"c","f":31.5,"v":-9.4},{"s":"c","f":32,"v":-9.35},{"s":"c","f":32.5,"v":-9.28},{"s":"c","f":33,"v":-9.2},{"s":"c","f":33.5,"v":-9.12},{"s":"c","f":34,"v":-9.06},{"s":"c","f":34.5,"v":-9.15},{"s":"c","f":35,"v":-9.35},{"s":"c","f":35.5,"v":-9.47},{"s":"c","f":36,"v":-9.58},{"s":"c","f":36.5,"v":-9.58},{"s":"c","f":37,"v":-9.58},{"s":"c","f":37.5,"v":-9.65},{"s":"c","f":38,"v":-9.72},{"s":"c","f":38.5,"v":-9.8},{"s":"c","f":39,"v":-9.87},{"s":"c","f":39.5,"v":-10.02},{"s":"c","f":40,"v":-9.9},{"s":"c","f":40.5,"v":-9.8},{"s":"c","f":41,"v":-9.72},{"s":"c","f":41.5,"v":-9.7},{"s":"c","f":42,"v":-9.72},{"s":"c","f":42.5,"v":-9.82},{"s":"c","f":43,"v":-9.95},{"s":"c","f":43.5,"v":-10.1},{"s":"c","f":44,"v":-10.24},{"s":"c","f":44.5,"v":-10.4},{"s":"c","f":44.8,"v":-10.5}
]
},
"bounds": "flush",
"spacing": 0,
"hconcat": [
{"bounds": "flush", "spacing": 0, "vconcat": [{"width": 1163, "height": 10, "data": {"values": []}, "mark": "text", "view": {"stroke": null, "fill": {"gradient": "linear", "x1": 0, "y1": 0, "x2": 0, "y2": 1, "stops": [{"offset": 0, "color": "#ffffff"}, {"offset": 0.9, "color": "#ffffff"}, {"offset": 0.9, "color": "#707070"}, {"offset": 1, "color": "#707070"}]}}}]},
{"bounds": "flush", "spacing": 0, "vconcat": [{"width": 1, "height": 10, "data": {"values": []}, "mark": "text"}, {"width": 5, "height": 483, "data": {"values": []}, "mark": "text", "view": {"stroke": null, "fill": {"gradient": "linear", "x1": 0, "y1": 0, "x2": 1, "y2": 0, "stops": [{"offset": 0, "color": "#ffffff"}, {"offset": 0.8, "color": "#ffffff"}, {"offset": 0.8, "color": "#707070"}, {"offset": 1, "color": "#707070"}]}}}]},
{"width": 5, "height": 1, "data": {"values": []}, "mark": "text"},
{"bounds": "flush", "spacing": 0, "vconcat": [{"width": 1, "height": 10, "data": {"values": []}, "mark": "text"}, {"width": 576, "height": 18, "data": {"values": []}, "mark": "text", "view": {"fill": "#eceff3", "stroke": null}, "title": {"text": "*BLK: Reference Auto spectra - 27 Auto spectra", "anchor": "start", "frame": "group", "orient": "top", "offset": -9, "baseline": "middle", "dx": 7, "dy": 10, "fontSize": 9, "fontWeight": "normal", "color": "#3c3c3c"}}]},
{"bounds": "flush", "spacing": 0, "vconcat": [{"width": 1, "height": 249, "data": {"values": []}, "mark": "text"}, {"width": 576, "height": 6, "data": {"values": []}, "mark": "text", "view": {"stroke": null, "fill": {"gradient": "linear", "x1": 0, "y1": 0, "x2": 0, "y2": 1, "stops": [{"offset": 0, "color": "#d3dbe5"}, {"offset": 0.5, "color": "#d3dbe5"}, {"offset": 0.5, "color": "#5c5f63"}, {"offset": 0.8, "color": "#5c5f63"}, {"offset": 0.8, "color": "#d3dbe5"}, {"offset": 1, "color": "#d3dbe5"}]}}}]},
{"bounds": "flush", "spacing": 0, "vconcat": [{"width": 1, "height": 255, "data": {"values": []}, "mark": "text"}, {"width": 576, "height": 18, "data": {"values": []}, "mark": "text", "view": {"fill": "#eceff3", "stroke": null}, "title": {"text": "*BLK: Ref Auto Spectra 1Z - 9 Auto spectra", "anchor": "start", "frame": "group", "orient": "top", "offset": -9, "baseline": "middle", "dx": 7, "dy": 10, "fontSize": 9, "fontWeight": "normal", "color": "#3c3c3c"}}]},
{"width": 33, "height": 1, "data": {"values": []}, "mark": "text"},
{"bounds": "flush", "spacing": 0, "vconcat": [{"width": 1, "height": 42, "data": {"values": []}, "mark": "text"},
 {"width": 528, "height": 46,
  "view": {"fill": {"gradient": "linear", "x1": 0, "y1": 0, "x2": 0, "y2": 1, "stops": [{"offset": 0, "color": "#e6e6e6"}, {"offset": 1, "color": "#ffffff"}]}, "stroke": "#ff7373", "strokeWidth": 1.5},
  "layer": [
   {"data": {"name": "A1"}, "mark": {"type": "line", "clip": true, "color": "#111111", "strokeWidth": 1.6},
    "encoding": {
     "x": {"field": "f", "type": "quantitative", "scale": {"domain": [0.93, 50.95], "nice": false, "zero": false}, "axis": {"values": [5,10,15,20,25,30,35,40,45,50], "grid": true, "gridColor": "#d2d2d2", "domain": false, "tickColor": "#ff7373", "tickSize": 3, "labels": false, "title": null}},
     "y": {"field": "v", "type": "quantitative", "scale": {"domain": [-11.57, -7.57], "nice": false, "zero": false}, "axis": {"values": [-10, -8], "tickCount": 100, "labelExpr": "'1E-' + (datum.value > -10 ? '0' : '') + (-datum.value)", "grid": true, "gridColor": "#c8c8c8", "domain": false, "tickColor": "#6a6aff", "tickSize": 3, "labelColor": "#3a3aff", "labelFontSize": 8, "labelPadding": 1, "labelOverlap": false, "title": null}}
    }},
   {"data": {"values": [{}]}, "mark": {"type": "text", "text": "Log Magnitude g^2", "align": "left", "baseline": "bottom", "dy": -3, "font": "Noto Sans", "fontSize": 7.5, "color": "#3a3aff"},
    "encoding": {"x": {"datum": 0.93}, "y": {"datum": -7.57}}},
   {"data": {"values": [{}]}, "mark": {"type": "text", "text": "APS (1Z [1]) M#1 Auto spectrum", "align": "right", "baseline": "bottom", "dy": -3, "font": "Noto Sans", "fontSize": 7.5, "color": "#3a3aff"},
    "encoding": {"x": {"datum": 50.95}, "y": {"datum": -7.57}}}
  ]}]},
{"bounds": "flush", "spacing": 0, "vconcat": [{"width": 1, "height": 106.5, "data": {"values": []}, "mark": "text"},
 {"width": 528, "height": 47,
  "view": {"fill": {"gradient": "linear", "x1": 0, "y1": 0, "x2": 0, "y2": 1, "stops": [{"offset": 0, "color": "#e6e6e6"}, {"offset": 1, "color": "#ffffff"}]}, "stroke": "#ff7373", "strokeWidth": 1.5},
  "layer": [
   {"data": {"name": "A2"}, "mark": {"type": "line", "clip": true, "color": "#111111", "strokeWidth": 1.6},
    "encoding": {
     "x": {"field": "f", "type": "quantitative", "scale": {"domain": [0.93, 50.95], "nice": false, "zero": false}, "axis": {"values": [5,10,15,20,25,30,35,40,45,50], "grid": true, "gridColor": "#d2d2d2", "domain": false, "tickColor": "#ff7373", "tickSize": 3, "labels": false, "title": null}},
     "y": {"field": "v", "type": "quantitative", "scale": {"domain": [-12.9, -8.9], "nice": false, "zero": false}, "axis": {"values": [-10], "tickCount": 100, "labelExpr": "'1E-' + (datum.value > -10 ? '0' : '') + (-datum.value)", "grid": true, "gridColor": "#c8c8c8", "domain": false, "tickColor": "#6a6aff", "tickSize": 3, "labelColor": "#3a3aff", "labelFontSize": 8, "labelPadding": 1, "labelOverlap": false, "title": null}}
    }},
   {"data": {"values": [{}]}, "mark": {"type": "text", "text": "Log Magnitude g^2", "align": "left", "baseline": "bottom", "dy": -3, "font": "Noto Sans", "fontSize": 7.5, "color": "#3a3aff"},
    "encoding": {"x": {"datum": 0.93}, "y": {"datum": -8.9}}},
   {"data": {"values": [{}]}, "mark": {"type": "text", "text": "APS (-2Y [1]) M#2 Auto spectrum", "align": "right", "baseline": "bottom", "dy": -3, "font": "Noto Sans", "fontSize": 7.5, "color": "#3a3aff"},
    "encoding": {"x": {"datum": 50.95}, "y": {"datum": -8.9}}}
  ]}]},
{"bounds": "flush", "spacing": 0, "vconcat": [{"width": 1, "height": 172, "data": {"values": []}, "mark": "text"},
 {"width": 528, "height": 45,
  "view": {"fill": {"gradient": "linear", "x1": 0, "y1": 0, "x2": 0, "y2": 1, "stops": [{"offset": 0, "color": "#e6e6e6"}, {"offset": 1, "color": "#ffffff"}]}, "stroke": "#ff7373", "strokeWidth": 1.5},
  "layer": [
   {"data": {"name": "A3"}, "mark": {"type": "line", "clip": true, "color": "#111111", "strokeWidth": 1.6},
    "encoding": {
     "x": {"field": "f", "type": "quantitative", "scale": {"domain": [0.93, 50.95], "nice": false, "zero": false}, "axis": {"values": [5,10,15,20,25,30,35,40,45,50], "grid": true, "gridColor": "#d2d2d2", "domain": false, "tickColor": "#ff7373", "tickSize": 3, "labelColor": "#3a3aff", "labelFontSize": 8, "labelPadding": 1, "title": "Hz", "titleColor": "#3a3aff", "titleFontSize": 8, "titleFontWeight": "normal", "titlePadding": 1}},
     "y": {"field": "v", "type": "quantitative", "scale": {"domain": [-10.49, -6.52], "nice": false, "zero": false}, "axis": {"values": [-8], "tickCount": 100, "labelExpr": "'1E-' + (datum.value > -10 ? '0' : '') + (-datum.value)", "grid": true, "gridColor": "#c8c8c8", "domain": false, "tickColor": "#6a6aff", "tickSize": 3, "labelColor": "#3a3aff", "labelFontSize": 8, "labelPadding": 1, "labelOverlap": false, "title": null}}
    }},
   {"data": {"values": [{}]}, "mark": {"type": "text", "text": "Log Magnitude g^2", "align": "left", "baseline": "bottom", "dy": -3, "font": "Noto Sans", "fontSize": 7.5, "color": "#3a3aff"},
    "encoding": {"x": {"datum": 0.93}, "y": {"datum": -6.52}}},
   {"data": {"values": [{}]}, "mark": {"type": "text", "text": "APS (2Z [1]) M#3 Auto spectrum", "align": "right", "baseline": "bottom", "dy": -3, "font": "Noto Sans", "fontSize": 7.5, "color": "#3a3aff"},
    "encoding": {"x": {"datum": 50.95}, "y": {"datum": -6.52}}}
  ]}]},
{"bounds": "flush", "spacing": 0, "vconcat": [{"width": 1, "height": 286, "data": {"values": []}, "mark": "text"},
 {"width": 535, "height": 179,
  "view": {"fill": {"gradient": "linear", "x1": 0, "y1": 0, "x2": 0, "y2": 1, "stops": [{"offset": 0, "color": "#e6e6e6"}, {"offset": 1, "color": "#ffffff"}]}, "stroke": "#ff7373", "strokeWidth": 1.5},
  "layer": [
   {"data": {"name": "BL"}, "mark": {"type": "line", "clip": true, "color": "#ff8a00", "strokeJoin": "round"},
    "encoding": {
     "x": {"field": "f", "type": "quantitative", "scale": {"domain": [0.92, 50.6], "nice": false, "zero": false}, "axis": {"values": [5,10,15,20,25,30,35,40,45,50], "grid": true, "gridColor": "#d2d2d2", "domain": false, "tickColor": "#ff7373", "tickSize": 3, "labelColor": "#3a3aff", "labelFontSize": 8, "labelPadding": 1, "title": "Hz", "titleColor": "#3a3aff", "titleFontSize": 8, "titleFontWeight": "normal", "titlePadding": 1}},
     "y": {"field": "v", "type": "quantitative", "scale": {"domain": [-11.33, -7.37], "nice": false, "zero": false}, "axis": {"values": [-11.301,-11.222,-11.155,-11.097,-11.046,-11,-10.699,-10.523,-10.398,-10.301,-10.222,-10.155,-10.097,-10.046,-10,-9.699,-9.523,-9.398,-9.301,-9.222,-9.155,-9.097,-9.046,-9,-8.699,-8.523,-8.398,-8.301,-8.222,-8.155,-8.097,-8.046,-8,-7.699,-7.523,-7.398], "tickCount": 100, "labelExpr": "datum.value == round(datum.value) ? '1E-' + (datum.value > -10 ? '0' : '') + (-datum.value) : ''", "grid": true, "gridColor": {"condition": {"test": "datum.value == round(datum.value)", "value": "#bdbdbd"}, "value": "#d9d9d9"}, "tickOpacity": {"condition": {"test": "datum.value == round(datum.value)", "value": 1}, "value": 0}, "domain": false, "tickColor": "#6a6aff", "tickSize": 3, "labelColor": "#3a3aff", "labelFontSize": 8, "labelPadding": 1, "labelOverlap": false, "title": null}},
     "detail": {"field": "s", "type": "nominal"},
     "strokeWidth": {"condition": [{"test": "datum.s == 'a'", "value": 3.4}, {"test": "datum.s == 'b'", "value": 2.2}], "value": 1.6}
    }},
   {"data": {"values": [{}]}, "mark": {"type": "text", "text": "Log Magnitude g^2", "align": "left", "baseline": "bottom", "dy": -3, "font": "Noto Sans", "fontSize": 7.5, "color": "#3a3aff"},
    "encoding": {"x": {"datum": 0.92}, "y": {"datum": -7.37}}},
   {"data": {"values": [{}]}, "mark": {"type": "text", "text": "9 Overlaid M#s", "align": "right", "baseline": "bottom", "dy": -3, "font": "Noto Sans", "fontSize": 7.5, "color": "#3a3aff"},
    "encoding": {"x": {"datum": 50.6}, "y": {"datum": -7.37}}}
  ]}]},
{"width": 484, "height": 1, "data": {"values": []}, "mark": "text"},
{"bounds": "flush", "spacing": 0, "vconcat": [{"width": 1, "height": 17, "data": {"values": []}, "mark": "text"}, {"width": 59, "height": 10, "data": {"values": []}, "mark": "text", "view": {"stroke": null, "fill": {"gradient": "linear", "x1": 0, "y1": 0, "x2": 1, "y2": 0, "stops": [{"offset": 0, "color": "#d6dde6"}, {"offset": 0.32, "color": "#d6dde6"}, {"offset": 0.32, "color": "#eceff3"}, {"offset": 0.34, "color": "#eceff3"}, {"offset": 0.34, "color": "#d6dde6"}, {"offset": 0.66, "color": "#d6dde6"}, {"offset": 0.66, "color": "#eceff3"}, {"offset": 0.68, "color": "#eceff3"}, {"offset": 0.68, "color": "#d6dde6"}, {"offset": 1, "color": "#d6dde6"}]}}}]},
{"bounds": "flush", "spacing": 0, "vconcat": [{"width": 1, "height": 261, "data": {"values": []}, "mark": "text"}, {"width": 59, "height": 10, "data": {"values": []}, "mark": "text", "view": {"stroke": null, "fill": {"gradient": "linear", "x1": 0, "y1": 0, "x2": 1, "y2": 0, "stops": [{"offset": 0, "color": "#d6dde6"}, {"offset": 0.32, "color": "#d6dde6"}, {"offset": 0.32, "color": "#eceff3"}, {"offset": 0.34, "color": "#eceff3"}, {"offset": 0.34, "color": "#d6dde6"}, {"offset": 0.66, "color": "#d6dde6"}, {"offset": 0.66, "color": "#eceff3"}, {"offset": 0.68, "color": "#eceff3"}, {"offset": 0.68, "color": "#d6dde6"}, {"offset": 1, "color": "#d6dde6"}]}}}]},
{"width": 46, "height": 1, "data": {"values": []}, "mark": "text"},
{"bounds": "flush", "spacing": 0, "vconcat": [{"width": 1, "height": 28, "data": {"values": []}, "mark": "text"}, {"width": 9, "height": 219, "data": {"values": []}, "mark": "text", "view": {"stroke": null, "fill": {"gradient": "linear", "x1": 0, "y1": 0, "x2": 0, "y2": 1, "stops": [{"offset": 0, "color": "#f0f0f0"}, {"offset": 0.04, "color": "#f0f0f0"}, {"offset": 0.04, "color": "#c6c6c6"}, {"offset": 0.15, "color": "#c6c6c6"}, {"offset": 0.15, "color": "#f0f0f0"}, {"offset": 1, "color": "#f0f0f0"}]}}}]},
{"width": 10, "height": 1, "data": {"values": []}, "mark": "text"},
{"bounds": "flush", "spacing": 0, "vconcat": [{"width": 1, "height": 28, "data": {"values": []}, "mark": "text"}, {"width": 3, "height": 219, "data": {"values": []}, "mark": "text", "view": {"fill": "#2a2aff", "stroke": null}}]},
{"bounds": "flush", "spacing": 0, "vconcat": [{"width": 1, "height": 273, "data": {"values": []}, "mark": "text"}, {"width": 3, "height": 217, "data": {"values": []}, "mark": "text", "view": {"fill": "#2a2aff", "stroke": null}}]},
{"width": 3, "height": 1, "data": {"values": []}, "mark": "text"},
{"bounds": "flush", "spacing": 0, "vconcat": [{"width": 1, "height": 10, "data": {"values": []}, "mark": "text"}, {"width": 7, "height": 483, "data": {"values": []}, "mark": "text", "view": {"stroke": null, "fill": {"gradient": "linear", "x1": 0, "y1": 0, "x2": 1, "y2": 0, "stops": [{"offset": 0, "color": "#d3dbe5"}, {"offset": 0.45, "color": "#d3dbe5"}, {"offset": 0.45, "color": "#5c5f63"}, {"offset": 0.75, "color": "#5c5f63"}, {"offset": 0.75, "color": "#d3dbe5"}, {"offset": 1, "color": "#d3dbe5"}]}}}]},
{"width": 7, "height": 1, "data": {"values": []}, "mark": "text"},
{"bounds": "flush", "spacing": 0, "vconcat": [{"width": 1, "height": 10, "data": {"values": []}, "mark": "text"}, {"width": 573, "height": 18, "data": {"values": []}, "mark": "text", "view": {"fill": "#eceff3", "stroke": null}, "title": {"text": "*BLK: Ref Auto Spectra -2Y - 9 Auto spectra", "anchor": "start", "frame": "group", "orient": "top", "offset": -9, "baseline": "middle", "dx": 7, "dy": 10, "fontSize": 9, "fontWeight": "normal", "color": "#3c3c3c"}}]},
{"bounds": "flush", "spacing": 0, "vconcat": [{"width": 1, "height": 249, "data": {"values": []}, "mark": "text"}, {"width": 573, "height": 6, "data": {"values": []}, "mark": "text", "view": {"stroke": null, "fill": {"gradient": "linear", "x1": 0, "y1": 0, "x2": 0, "y2": 1, "stops": [{"offset": 0, "color": "#d3dbe5"}, {"offset": 0.5, "color": "#d3dbe5"}, {"offset": 0.5, "color": "#5c5f63"}, {"offset": 0.8, "color": "#5c5f63"}, {"offset": 0.8, "color": "#d3dbe5"}, {"offset": 1, "color": "#d3dbe5"}]}}}]},
{"bounds": "flush", "spacing": 0, "vconcat": [{"width": 1, "height": 255, "data": {"values": []}, "mark": "text"}, {"width": 573, "height": 18, "data": {"values": []}, "mark": "text", "view": {"fill": "#eceff3", "stroke": null}, "title": {"text": "*BLK: Ref Auto spectra 2Z - 9 Auto spectra", "anchor": "start", "frame": "group", "orient": "top", "offset": -9, "baseline": "middle", "dx": 22, "dy": 10, "fontSize": 9, "fontWeight": "normal", "color": "#3c3c3c"}}]},
{"width": 32, "height": 1, "data": {"values": []}, "mark": "text"},
{"bounds": "flush", "spacing": 0, "vconcat": [{"width": 1, "height": 42, "data": {"values": []}, "mark": "text"},
 {"width": 532, "height": 179,
  "view": {"fill": {"gradient": "linear", "x1": 0, "y1": 0, "x2": 0, "y2": 1, "stops": [{"offset": 0, "color": "#e6e6e6"}, {"offset": 1, "color": "#ffffff"}]}, "stroke": "#ff7373", "strokeWidth": 1.5},
  "layer": [
   {"data": {"name": "TR"}, "mark": {"type": "line", "clip": true, "color": "#0a84ff", "strokeJoin": "round"},
    "encoding": {
     "x": {"field": "f", "type": "quantitative", "scale": {"domain": [0.9, 50.7], "nice": false, "zero": false}, "axis": {"values": [5,10,15,20,25,30,35,40,45,50], "grid": true, "gridColor": "#d2d2d2", "domain": false, "tickColor": "#ff7373", "tickSize": 3, "labelColor": "#3a3aff", "labelFontSize": 8, "labelPadding": 1, "title": "Hz", "titleColor": "#3a3aff", "titleFontSize": 8, "titleFontWeight": "normal", "titlePadding": 1}},
     "y": {"field": "v", "type": "quantitative", "scale": {"domain": [-12.62, -8.62], "nice": false, "zero": false}, "axis": {"values": [-12.523,-12.398,-12.301,-12.222,-12.155,-12.097,-12.046,-12,-11.699,-11.523,-11.398,-11.301,-11.222,-11.155,-11.097,-11.046,-11,-10.699,-10.523,-10.398,-10.301,-10.222,-10.155,-10.097,-10.046,-10,-9.699,-9.523,-9.398,-9.301,-9.222,-9.155,-9.097,-9.046,-9,-8.699], "tickCount": 100, "labelExpr": "datum.value == round(datum.value) ? '1E-' + (datum.value > -10 ? '0' : '') + (-datum.value) : ''", "grid": true, "gridColor": {"condition": {"test": "datum.value == round(datum.value)", "value": "#bdbdbd"}, "value": "#d9d9d9"}, "tickOpacity": {"condition": {"test": "datum.value == round(datum.value)", "value": 1}, "value": 0}, "domain": false, "tickColor": "#6a6aff", "tickSize": 3, "labelColor": "#3a3aff", "labelFontSize": 8, "labelPadding": 1, "labelOverlap": false, "title": null}},
     "detail": {"field": "s", "type": "nominal"},
     "strokeWidth": {"condition": {"test": "datum.s == 'a'", "value": 3.6}, "value": 1.8}
    }},
   {"data": {"values": [{}]}, "mark": {"type": "text", "text": "Log Magnitude g^2", "align": "left", "baseline": "bottom", "dy": -3, "font": "Noto Sans", "fontSize": 7.5, "color": "#3a3aff"},
    "encoding": {"x": {"datum": 0.9}, "y": {"datum": -8.62}}},
   {"data": {"values": [{}]}, "mark": {"type": "text", "text": "9 Overlaid M#s", "align": "right", "baseline": "bottom", "dy": -3, "font": "Noto Sans", "fontSize": 7.5, "color": "#3a3aff"},
    "encoding": {"x": {"datum": 50.7}, "y": {"datum": -8.62}}}
  ]}]},
{"bounds": "flush", "spacing": 0, "vconcat": [{"width": 1, "height": 286, "data": {"values": []}, "mark": "text"},
 {"width": 532, "height": 179,
  "view": {"fill": {"gradient": "linear", "x1": 0, "y1": 0, "x2": 0, "y2": 1, "stops": [{"offset": 0, "color": "#e6e6e6"}, {"offset": 1, "color": "#ffffff"}]}, "stroke": "#ff7373", "strokeWidth": 1.5},
  "layer": [
   {"data": {"name": "BR"}, "mark": {"type": "line", "clip": true, "color": "#ff0a85", "strokeJoin": "round"},
    "encoding": {
     "x": {"field": "f", "type": "quantitative", "scale": {"domain": [0.9, 50.7], "nice": false, "zero": false}, "axis": {"values": [5,10,15,20,25,30,35,40,45,50], "grid": true, "gridColor": "#d2d2d2", "domain": false, "tickColor": "#ff7373", "tickSize": 3, "labelColor": "#3a3aff", "labelFontSize": 8, "labelPadding": 1, "title": "Hz", "titleColor": "#3a3aff", "titleFontSize": 8, "titleFontWeight": "normal", "titlePadding": 1}},
     "y": {"field": "v", "type": "quantitative", "scale": {"domain": [-10.36, -6.38], "nice": false, "zero": false}, "axis": {"values": [-10.301,-10.222,-10.155,-10.097,-10.046,-10,-9.699,-9.523,-9.398,-9.301,-9.222,-9.155,-9.097,-9.046,-9,-8.699,-8.523,-8.398,-8.301,-8.222,-8.155,-8.097,-8.046,-8,-7.699,-7.523,-7.398,-7.301,-7.222,-7.155,-7.097,-7.046,-7,-6.699,-6.523,-6.398], "tickCount": 100, "labelExpr": "datum.value == round(datum.value) ? '1E-' + (datum.value > -10 ? '0' : '') + (-datum.value) : ''", "grid": true, "gridColor": {"condition": {"test": "datum.value == round(datum.value)", "value": "#bdbdbd"}, "value": "#d9d9d9"}, "tickOpacity": {"condition": {"test": "datum.value == round(datum.value)", "value": 1}, "value": 0}, "domain": false, "tickColor": "#6a6aff", "tickSize": 3, "labelColor": "#3a3aff", "labelFontSize": 8, "labelPadding": 1, "labelOverlap": false, "title": null}},
     "detail": {"field": "s", "type": "nominal"},
     "strokeWidth": {"condition": [{"test": "datum.s == 'a'", "value": 3.0}, {"test": "datum.s == 'b'", "value": 2.4}], "value": 1.5}
    }},
   {"data": {"values": [{}]}, "mark": {"type": "text", "text": "Log Magnitude g^2", "align": "left", "baseline": "bottom", "dy": -3, "font": "Noto Sans", "fontSize": 7.5, "color": "#3a3aff"},
    "encoding": {"x": {"datum": 0.9}, "y": {"datum": -6.38}}},
   {"data": {"values": [{}]}, "mark": {"type": "text", "text": "9 Overlaid M#s", "align": "right", "baseline": "bottom", "dy": -3, "font": "Noto Sans", "fontSize": 7.5, "color": "#3a3aff"},
    "encoding": {"x": {"datum": 50.7}, "y": {"datum": -6.38}}}
  ]}]},
{"width": 482, "height": 1, "data": {"values": []}, "mark": "text"},
{"bounds": "flush", "spacing": 0, "vconcat": [{"width": 1, "height": 17, "data": {"values": []}, "mark": "text"}, {"width": 59, "height": 10, "data": {"values": []}, "mark": "text", "view": {"stroke": null, "fill": {"gradient": "linear", "x1": 0, "y1": 0, "x2": 1, "y2": 0, "stops": [{"offset": 0, "color": "#d6dde6"}, {"offset": 0.32, "color": "#d6dde6"}, {"offset": 0.32, "color": "#eceff3"}, {"offset": 0.34, "color": "#eceff3"}, {"offset": 0.34, "color": "#d6dde6"}, {"offset": 0.66, "color": "#d6dde6"}, {"offset": 0.66, "color": "#eceff3"}, {"offset": 0.68, "color": "#eceff3"}, {"offset": 0.68, "color": "#d6dde6"}, {"offset": 1, "color": "#d6dde6"}]}}}]},
{"bounds": "flush", "spacing": 0, "vconcat": [{"width": 1, "height": 261, "data": {"values": []}, "mark": "text"}, {"width": 59, "height": 10, "data": {"values": []}, "mark": "text", "view": {"stroke": null, "fill": {"gradient": "linear", "x1": 0, "y1": 0, "x2": 1, "y2": 0, "stops": [{"offset": 0, "color": "#d6dde6"}, {"offset": 0.32, "color": "#d6dde6"}, {"offset": 0.32, "color": "#eceff3"}, {"offset": 0.34, "color": "#eceff3"}, {"offset": 0.34, "color": "#d6dde6"}, {"offset": 0.66, "color": "#d6dde6"}, {"offset": 0.66, "color": "#eceff3"}, {"offset": 0.68, "color": "#eceff3"}, {"offset": 0.68, "color": "#cc4b3c"}, {"offset": 1, "color": "#cc4b3c"}]}}}]},
{"width": 55, "height": 1, "data": {"values": []}, "mark": "text"},
{"bounds": "flush", "spacing": 0, "vconcat": [{"width": 1, "height": 28, "data": {"values": []}, "mark": "text"}, {"width": 3, "height": 219, "data": {"values": []}, "mark": "text", "view": {"fill": "#2a2aff", "stroke": null}}]},
{"bounds": "flush", "spacing": 0, "vconcat": [{"width": 1, "height": 273, "data": {"values": []}, "mark": "text"}, {"width": 3, "height": 217, "data": {"values": []}, "mark": "text", "view": {"fill": "#2a2aff", "stroke": null}}]},
{"width": 6, "height": 493, "data": {"values": []}, "mark": "text"}
]
}
